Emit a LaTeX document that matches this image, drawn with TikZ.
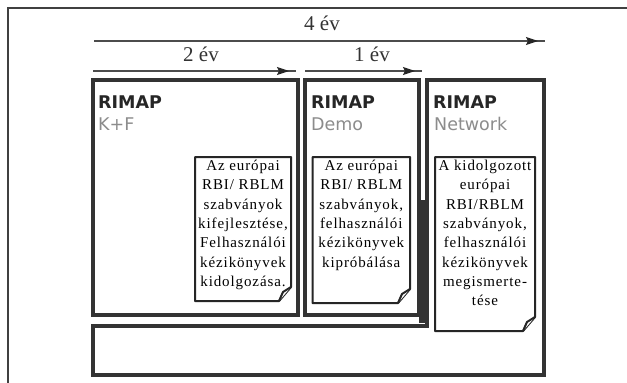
\documentclass[tikz,border=0pt]{standalone}
\usepackage{fontspec}
\usetikzlibrary{arrows.meta,decorations.markings}
\newfontfamily\titlefont{DejaVu Sans}
\newfontfamily\notefont[LetterSpace=6]{Liberation Serif}
\newfontfamily\spanfont{Liberation Serif}
\tikzset{
  frame/.style={draw=black!75, line width=1.5pt},
  colbox/.style={draw=black!80, line width=4pt, line join=miter},
  notebox/.style={inner sep=0pt, outer sep=0pt},
  notefold/.style={draw=black!85, line width=2pt, fill=white, line join=round},
  notetext/.style={anchor=north, align=center, inner sep=0pt, font=\notefont\fontsize{15}{19.3}\selectfont},
  titletext/.style={anchor=base west, inner sep=0pt, text=black!85, font=\titlefont\bfseries\fontsize{17.5}{20}\selectfont},
  subtext/.style={anchor=base west, inner sep=0pt, text=black!45, font=\titlefont\fontsize{17.5}{20}\selectfont},
  spanlabel/.style={anchor=base, inner sep=0pt, text=black!80, font=\spanfont\fontsize{21}{24}\selectfont},
  timeline/.style={draw=black!70, line width=1.2pt, postaction={decorate},
    decoration={markings, mark=at position -7pt with {\arrow[black!85]{Stealth[length=12pt,width=8pt,inset=2pt]}}}}
}
\begin{document}
\begin{tikzpicture}[x=1pt, y=-1pt]
\useasboundingbox (0,0) rectangle (627,383);
\fill[white] (0,0) rectangle (627,383);
\draw[frame] (8,383) -- (8,8) -- (627,8);

\coordinate (t4s) at (94,41);
\coordinate (t4e) at (545,41);
\coordinate (t2s) at (93,71);
\coordinate (t2e) at (296,71);
\coordinate (t1s) at (305,71);
\coordinate (t1e) at (422,71);
\draw[timeline] (t4s) -- (t4e);
\draw[timeline] (t2s) -- (t2e);
\draw[timeline] (t1s) -- (t1e);
\node[spanlabel] (l4) at (322,30) {4 év};
\node[spanlabel] (l2) at (201,61) {2 év};
\node[spanlabel] (l1) at (372,61) {1 év};

\fill[black!80] (419,200) rectangle (426,323);
\draw[colbox] (93,79.5) rectangle (297.5,314.5);
\draw[colbox] (305,79.5) rectangle (418.5,314.5);
\draw[colbox] (426.5,325.5) -- (426.5,79.5) -- (543.5,79.5) -- (543.5,375) -- (93,375) -- (93,325.5) -- cycle;

\node[titletext] (kf) at (98,108) {RIMAP};
\node[subtext] (kfsub) at (98,130) {K+F};
\node[titletext] (demo) at (311,108) {RIMAP};
\node[subtext] (demosub) at (311,130) {Demo};
\node[titletext] (net) at (433,108) {RIMAP};
\node[subtext] (netsub) at (434,130) {Network};

\node[notebox, minimum width=96pt, minimum height=144pt] (n1) at (243,229) {};
\node[notebox, minimum width=97.5pt, minimum height=146pt] (n2) at (361.25,230) {};
\node[notebox, minimum width=100pt, minimum height=174pt] (n3) at (485,244) {};
\foreach \n in {n1,n2,n3} {
  \draw[notefold] (\n.north west) -- (\n.north east) -- ([yshift=14pt]\n.south east)
    -- ([xshift=-12pt]\n.south east) -- (\n.south west) -- cycle;
  \draw[notefold] ([yshift=14pt]\n.south east) -- ([xshift=-8pt,yshift=9pt]\n.south east)
    -- ([xshift=-12pt]\n.south east);
}
\node[notetext] (n1text) at ([yshift=-3pt]n1.north) {Az európai\\RBI/ RBLM\\szabványok\\kifejlesztése,\\Felhasználói\\kézikönyvek\\kidolgozása.};
\node[notetext] (n2text) at ([yshift=-3pt]n2.north) {Az európai\\RBI/ RBLM\\szabványok,\\felhasználói\\kézikönyvek\\kipróbálása};
\node[notetext] (n3text) at ([yshift=-3pt]n3.north) {A kidolgozott\\európai\\RBI/RBLM\\szabványok,\\felhasználói\\kézikönyvek\\megismerte-\\tése};
\end{tikzpicture}
\end{document}
